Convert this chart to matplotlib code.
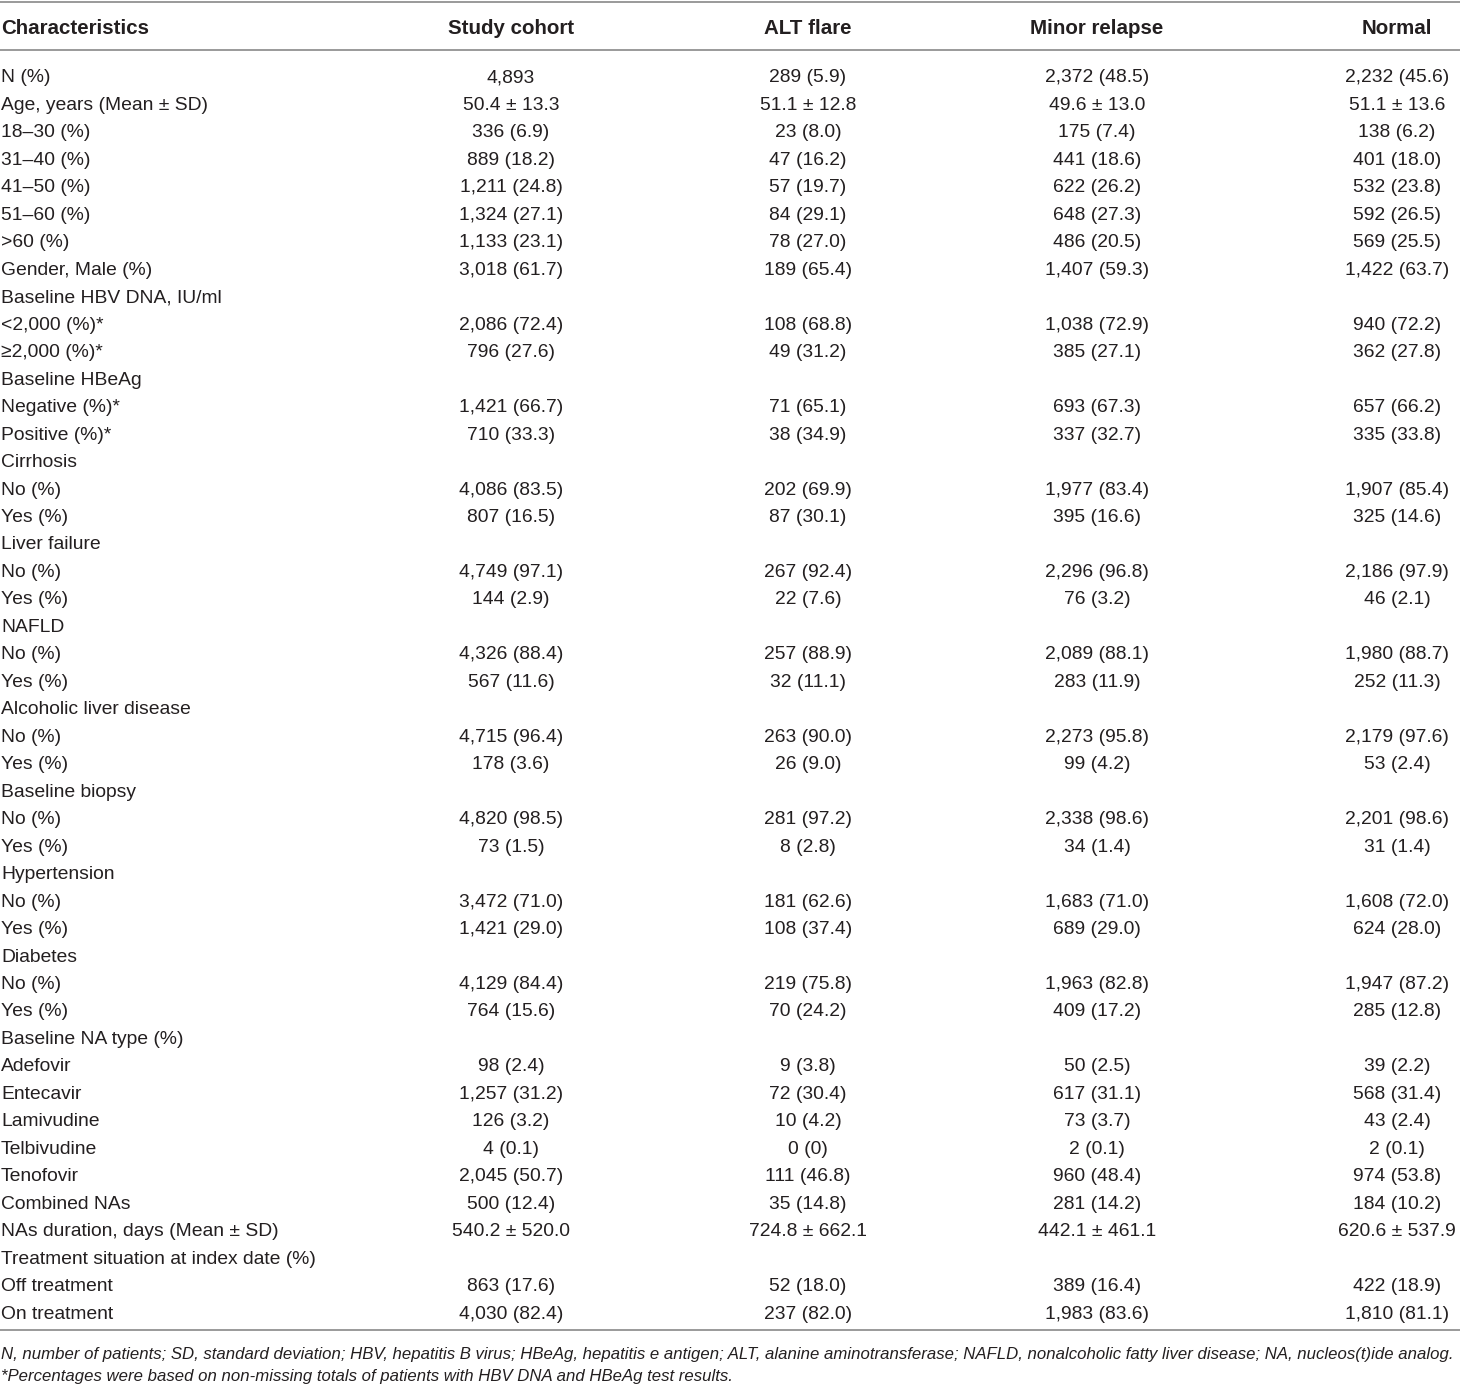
import matplotlib
matplotlib.use("Agg")
import matplotlib.pyplot as plt

plt.rcParams['font.family'] = ['Liberation Sans', 'DejaVu Sans']

headers = ['Characteristics', 'Study cohort', 'ALT flare', 'Minor relapse', 'Normal']

labels = ['N (%)', 'Age, years (Mean ± SD)', '18–30 (%)', '31–40 (%)', '41–50 (%)', '51–60 (%)',
          '>60 (%)', 'Gender, Male (%)', 'Baseline HBV DNA, IU/ml', '<2,000 (%)*', '≥2,000 (%)*',
          'Baseline HBeAg', 'Negative (%)*', 'Positive (%)*', 'Cirrhosis', 'No (%)', 'Yes (%)',
          'Liver failure', 'No (%)', 'Yes (%)', 'NAFLD', 'No (%)', 'Yes (%)',
          'Alcoholic liver disease', 'No (%)', 'Yes (%)', 'Baseline biopsy', 'No (%)', 'Yes (%)',
          'Hypertension', 'No (%)', 'Yes (%)', 'Diabetes', 'No (%)', 'Yes (%)',
          'Baseline NA type (%)', 'Adefovir', 'Entecavir', 'Lamivudine', 'Telbivudine', 'Tenofovir',
          'Combined NAs', 'NAs duration, days (Mean ± SD)', 'Treatment situation at index date (%)',
          'Off treatment', 'On treatment']

study = ['4,893', '50.4 ± 13.3', '336 (6.9)', '889 (18.2)', '1,211 (24.8)', '1,324 (27.1)',
         '1,133 (23.1)', '3,018 (61.7)', '', '2,086 (72.4)', '796 (27.6)',
         '', '1,421 (66.7)', '710 (33.3)', '', '4,086 (83.5)', '807 (16.5)',
         '', '4,749 (97.1)', '144 (2.9)', '', '4,326 (88.4)', '567 (11.6)',
         '', '4,715 (96.4)', '178 (3.6)', '', '4,820 (98.5)', '73 (1.5)',
         '', '3,472 (71.0)', '1,421 (29.0)', '', '4,129 (84.4)', '764 (15.6)',
         '', '98 (2.4)', '1,257 (31.2)', '126 (3.2)', '4 (0.1)', '2,045 (50.7)',
         '500 (12.4)', '540.2 ± 520.0', '', '863 (17.6)', '4,030 (82.4)']

alt_flare = ['289 (5.9)', '51.1 ± 12.8', '23 (8.0)', '47 (16.2)', '57 (19.7)', '84 (29.1)',
             '78 (27.0)', '189 (65.4)', '', '108 (68.8)', '49 (31.2)',
             '', '71 (65.1)', '38 (34.9)', '', '202 (69.9)', '87 (30.1)',
             '', '267 (92.4)', '22 (7.6)', '', '257 (88.9)', '32 (11.1)',
             '', '263 (90.0)', '26 (9.0)', '', '281 (97.2)', '8 (2.8)',
             '', '181 (62.6)', '108 (37.4)', '', '219 (75.8)', '70 (24.2)',
             '', '9 (3.8)', '72 (30.4)', '10 (4.2)', '0 (0)', '111 (46.8)',
             '35 (14.8)', '724.8 ± 662.1', '', '52 (18.0)', '237 (82.0)']

minor = ['2,372 (48.5)', '49.6 ± 13.0', '175 (7.4)', '441 (18.6)', '622 (26.2)', '648 (27.3)',
         '486 (20.5)', '1,407 (59.3)', '', '1,038 (72.9)', '385 (27.1)',
         '', '693 (67.3)', '337 (32.7)', '', '1,977 (83.4)', '395 (16.6)',
         '', '2,296 (96.8)', '76 (3.2)', '', '2,089 (88.1)', '283 (11.9)',
         '', '2,273 (95.8)', '99 (4.2)', '', '2,338 (98.6)', '34 (1.4)',
         '', '1,683 (71.0)', '689 (29.0)', '', '1,963 (82.8)', '409 (17.2)',
         '', '50 (2.5)', '617 (31.1)', '73 (3.7)', '2 (0.1)', '960 (48.4)',
         '281 (14.2)', '442.1 ± 461.1', '', '389 (16.4)', '1,983 (83.6)']

normal = ['2,232 (45.6)', '51.1 ± 13.6', '138 (6.2)', '401 (18.0)', '532 (23.8)', '592 (26.5)',
          '569 (25.5)', '1,422 (63.7)', '', '940 (72.2)', '362 (27.8)',
          '', '657 (66.2)', '335 (33.8)', '', '1,907 (85.4)', '325 (14.6)',
          '', '2,186 (97.9)', '46 (2.1)', '', '1,980 (88.7)', '252 (11.3)',
          '', '2,179 (97.6)', '53 (2.4)', '', '2,201 (98.6)', '31 (1.4)',
          '', '1,608 (72.0)', '624 (28.0)', '', '1,947 (87.2)', '285 (12.8)',
          '', '39 (2.2)', '568 (31.4)', '43 (2.4)', '2 (0.1)', '974 (53.8)',
          '184 (10.2)', '620.6 ± 537.9', '', '422 (18.9)', '1,810 (81.1)']

footnotes = ['N, number of patients; SD, standard deviation; HBV, hepatitis B virus; HBeAg, hepatitis e antigen; '
             'ALT, alanine aminotransferase; NAFLD, nonalcoholic fatty liver disease; NA, nucleos(t)ide analog.',
             '*Percentages were based on non-missing totals of patients with HBV DNA and HBeAg test results.']

W, H = 1460, 1393
fig = plt.figure(figsize=(W / 100, H / 100), dpi=100)
ax = fig.add_axes([0, 0, 1, 1])
ax.set_xlim(0, W)
ax.set_ylim(H, 0)
ax.axis('off')

txt = '#231f20'
fs = 13.9
col_x = [1, 511, 808, 1097, 1397]
row0, pitch = 78, 27.47

# rules
for y in [2, 50, 1330]:
    ax.plot([0, W], [y, y], color='#9a9a9a', lw=1.4, solid_capstyle='butt')

# header
for i, h in enumerate(headers):
    ax.text(col_x[i], 28, h, ha='left' if i == 0 else 'center', va='center',
            fontsize=14.8, fontweight='bold', color=txt)

# body
columns = [study, alt_flare, minor, normal]
for r, lab in enumerate(labels):
    y = row0 + r * pitch
    ax.text(col_x[0], y, lab, ha='left', va='center', fontsize=fs, color=txt)
    for c, vals in enumerate(columns):
        if vals[r]:
            ax.text(col_x[c + 1], y, vals[r], ha='center', va='center', fontsize=fs, color=txt)

# footnotes
ax.text(1, 1354, footnotes[0], ha='left', va='center', fontsize=12.1, style='italic', color=txt)
ax.text(1, 1377, footnotes[1], ha='left', va='center', fontsize=12.1, style='italic', color=txt)

fig.savefig('out.png', dpi=100)
